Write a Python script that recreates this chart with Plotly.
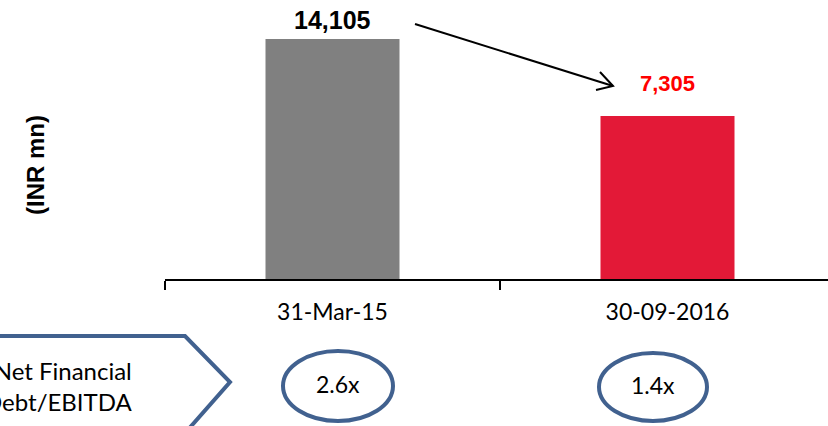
import plotly.graph_objects as go

# ---- data ----
categories = ["31-Mar-15", "30-09-2016"]
values = [14105, 7305]
value_labels = ["14,105", "7,305"]
ratios = ["2.6x", "1.4x"]
ratio_label = "Net Financial<br>Debt/EBITDA"
y_title = "(INR mn)"

# ---- style ----
bar_colors = ["#808080", "#E31937"]
label_colors = ["#000000", "#FF0000"]
label_sizes = [25, 22]
label_shifts = [3, 18]
BLUE = "#41618F"
AXIS_MIN = -7100
Y_MAX = 16670

W, H = 828, 426
L, T, B = 165, 10, 147
PW, PH = W - L, H - T - B
CAT_PX = 335


def xp(px):
    return (px - L) / PW


def yp(py):
    return (H - B - py) / PH


fig = go.Figure()
fig.add_trace(go.Bar(
    x=categories,
    y=[v - AXIS_MIN for v in values],
    base=AXIS_MIN,
    width=0.4,
    marker=dict(color=bar_colors, line=dict(width=0)),
    hoverinfo="skip",
))

annotations = []
for i, (c, v) in enumerate(zip(categories, values)):
    annotations.append(dict(
        x=c, y=v, xref="x", yref="y", text="<b>%s</b>" % value_labels[i],
        showarrow=False, xanchor="center", yanchor="bottom", yshift=label_shifts[i],
        font=dict(family="Liberation Sans", size=label_sizes[i], color=label_colors[i]),
    ))

annotations.append(dict(
    x=xp(35), y=yp(165), xref="paper", yref="paper", text="<b>%s</b>" % y_title,
    textangle=-90, showarrow=False, xanchor="center", yanchor="middle",
    font=dict(family="Liberation Sans", size=24, color="black"),
))

annotations.append(dict(
    x=xp(135), y=yp(386), xref="paper", yref="paper", text=ratio_label,
    showarrow=False, xanchor="right", yanchor="middle", align="right",
    font=dict(family="Lato", size=24, color="black"),
))

ell_centers = [(338, 386, 55, 35), (653, 387, 54, 34)]
shapes = []
for (cx, cy, rx, ry), r in zip(ell_centers, ratios):
    shapes.append(dict(type="circle", xref="paper", yref="paper",
                       x0=xp(cx - rx), x1=xp(cx + rx), y0=yp(cy + ry), y1=yp(cy - ry),
                       line=dict(color=BLUE, width=4)))
    annotations.append(dict(
        x=xp(cx), y=yp(cy - 2), xref="paper", yref="paper", text=r, showarrow=False,
        xanchor="center", yanchor="middle",
        font=dict(family="Lato", size=23, color="black"),
    ))

# pentagon label box
pts = [(-10, 336), (185, 336), (230, 382), (186, 432), (-10, 432)]
path = "M " + " L ".join("%f,%f" % (xp(a), yp(b)) for a, b in pts) + " Z"
shapes.append(dict(type="path", xref="paper", yref="paper", path=path,
                   line=dict(color=BLUE, width=4)))

# arrow
shapes.append(dict(type="line", xref="paper", yref="paper",
                   x0=xp(415), y0=yp(24), x1=xp(613), y1=yp(86),
                   line=dict(color="black", width=2)))
head = [(600, 72), (613, 86), (596, 90)]
hpath = "M " + " L ".join("%f,%f" % (xp(a), yp(b)) for a, b in head)
shapes.append(dict(type="path", xref="paper", yref="paper", path=hpath,
                   line=dict(color="black", width=2)))

fig.update_layout(
    width=W, height=H,
    margin=dict(l=L, r=0, t=T, b=B, pad=0),
    paper_bgcolor="white", plot_bgcolor="white",
    showlegend=False,
    annotations=annotations,
    shapes=shapes,
    xaxis=dict(
        type="category",
        range=[-0.5, -0.5 + PW / CAT_PX],
        showline=True, linecolor="black", linewidth=2,
        ticks="outside", tickson="boundaries", ticklen=9, tickwidth=2, tickcolor="black",
        tickfont=dict(family="Lato", size=23, color="black"),
        ticklabelstandoff=11,
        showgrid=False, zeroline=False, fixedrange=True,
    ),
    yaxis=dict(
        range=[AXIS_MIN, Y_MAX], visible=False, showgrid=False, zeroline=False,
        fixedrange=True,
    ),
)

fig.write_html("out.html")
